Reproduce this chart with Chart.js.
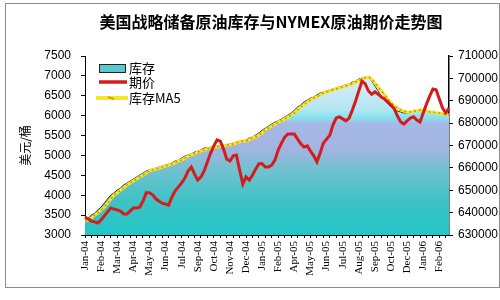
<!DOCTYPE html>
<html>
<head>
<meta charset="utf-8">
<script src="https://cdn.jsdelivr.net/npm/chart.js@4"></script>
<style>
  body { margin: 0; background: #fff; }
  #wrap { width: 500px; height: 300px; }
</style>
</head>
<body>
<div id="wrap"><canvas id="chart" width="500" height="300"></canvas></div>
<script>
// weekly data, Jan 2004 - early Mar 2006, a label every 5 weeks
const tickLabels = ['Jan-04','Feb-04','Mar-04','Apr-04','May-04','Jun-04','Jul-04','Sep-04','Oct-04','Nov-04','Dec-04',
  'Jan-05','Feb-05','Apr-05','May-05','Jun-05','Jul-05','Aug-05','Sep-05','Oct-05','Dec-05','Jan-06','Feb-06'];

// 库存 (right axis)
const stock = [636700,637600,638900,639800,641200,642500,644300,646100,647900,648800,
  650100,651000,652400,653200,654100,655000,655900,656800,657700,658600,
  659100,659500,659900,660400,660800,661300,661700,662200,663100,663500,
  664400,665300,665800,666200,667100,667500,668000,668900,668900,669300,
  669300,669800,669800,670200,670200,670700,671100,671600,672000,672000,
  672500,673400,673800,674700,675600,676900,677800,678700,679600,680500,
  681000,681900,682700,683600,684500,685900,687200,688100,689500,690300,
  691200,691700,692600,693500,693900,694400,694800,695300,695700,696200,
  696600,697100,697500,698400,698800,699700,700200,700600,700600,698800,
  696600,694400,692100,690300,688600,687200,686300,685400,685000,684500,
  684500,685000,685400,685400,685900,685900,685400,685000,685000,684500,
  684500,684100,684100,683600];

// 库存MA5 (right axis)
const stockMA5 = [636200,636700,637600,638900,639800,641200,642500,644300,646100,647900,
  648800,650100,651000,652400,653200,654100,655000,655900,656800,657700,
  658600,659100,659500,659900,660400,660800,661300,661700,662200,663100,
  663500,664400,665300,665800,666200,667100,667500,668000,668500,668900,
  669300,669300,669800,669800,670200,670200,670700,671100,671600,672000,
  672000,672500,673400,673800,674700,675600,676900,677800,678700,679600,
  680500,681000,681900,682700,683600,684500,685900,687200,688100,689500,
  690300,691200,691700,692600,693500,693900,694400,694800,695300,695700,
  696200,696600,697100,697500,698400,698800,699700,700200,700600,699700,
  697900,696200,694400,692600,690800,689100,687700,686800,685900,685400,
  684900,685000,685400,685400,685900,685900,685400,685000,685000,684500,
  684500,684100,684100,683600];

// 期价 (left axis)
const price = [3450,3400,3350,3330,3300,3380,3480,3580,3680,3650,
  3630,3600,3530,3530,3600,3680,3680,3700,3850,4060,
  4060,4010,3910,3850,3800,3780,3750,3960,4110,4210,
  4310,4430,4610,4710,4530,4380,4460,4610,4840,5060,
  5240,5390,5360,5160,4910,4860,4990,5010,4630,4280,
  4460,4380,4510,4660,4790,4790,4710,4710,4760,4890,
  5140,5310,5460,5540,5540,5540,5410,5290,5210,5240,
  5110,4990,4840,5060,5310,5410,5510,5770,5940,5970,
  5920,5870,5940,6140,6370,6620,6870,6800,6620,6540,
  6600,6540,6470,6420,6340,6270,6170,5990,5840,5790,
  5870,5940,5970,5890,5840,6070,6290,6490,6670,6650,
  6420,6190,6070,6190];

const leftTicks = [3000,3500,4000,4500,5000,5500,6000,6500,7000,7500];
const rightTicks = [630000,640000,650000,660000,670000,680000,690000,700000,710000];

const categories = price.map((v, i) => i % 5 === 0 ? (tickLabels[i / 5] || '') : '');

function areaFill(context) {
  const chart = context.chart;
  const a = chart.chartArea;
  if (!a) return '#40c4c8';
  const g = chart.ctx.createLinearGradient(0, a.top, 0, a.bottom);
  g.addColorStop(0.0, '#eef7fc');
  g.addColorStop(0.15, '#d4ecf8');
  g.addColorStop(0.30, '#b2e6f2');
  g.addColorStop(0.34, '#86e4ee');
  g.addColorStop(0.38, '#a6b8e6');
  g.addColorStop(0.52, '#a2b4e0');
  g.addColorStop(0.64, '#70c2d0');
  g.addColorStop(0.80, '#40c2c6');
  g.addColorStop(1.0, '#22c6c6');
  return g;
}

const decor = {
  id: 'decor',
  beforeDraw(chart) {
    const c = chart.ctx;
    c.save();
    c.fillStyle = '#ffffff';
    c.fillRect(0, 0, 500, 300);
    c.strokeStyle = '#8c8c8c';
    c.lineWidth = 1;
    c.strokeRect(5.5, 3.5, 494, 284);
    c.restore();
  },
  afterDraw(chart) {
    const c = chart.ctx;
    c.save();
    // title
    c.fillStyle = '#000';
    c.font = 'bold 16px "Noto Sans CJK SC", sans-serif';
    c.textAlign = 'center';
    c.textBaseline = 'middle';
    c.fillText('美国战略储备原油库存与NYMEX原油期价走势图', 271, 22);

    // legend
    c.font = '13px "Noto Sans CJK SC", sans-serif';
    c.textAlign = 'left';
    c.fillStyle = '#5cc8cc';
    c.fillRect(99, 64, 26, 8);
    c.strokeStyle = '#222';
    c.lineWidth = 1;
    c.strokeRect(99.5, 64.5, 26, 8);
    c.fillStyle = '#000';
    c.fillText('库存', 129, 68);

    c.strokeStyle = '#d41c1c';
    c.lineWidth = 3.5;
    c.beginPath(); c.moveTo(99, 82); c.lineTo(127, 82); c.stroke();
    c.fillText('期价', 129, 82);

    c.strokeStyle = '#f2e829';
    c.lineWidth = 4;
    c.beginPath(); c.moveTo(96, 98); c.lineTo(128, 98); c.stroke();
    c.strokeStyle = '#e08a00';
    c.lineWidth = 1.5;
    c.beginPath(); c.moveTo(108, 97); c.lineTo(114, 99); c.stroke();
    c.fillStyle = '#000';
    c.fillText('库存MA5', 129, 98);
    c.restore();
  }
};

new Chart(document.getElementById('chart'), {
  type: 'line',
  data: {
    labels: categories,
    datasets: [
      {
        label: '期价',
        data: price,
        yAxisID: 'y',
        borderColor: '#d41c1c',
        borderWidth: 3,
        pointRadius: 0,
        tension: 0,
        fill: false,
        order: 0
      },
      {
        label: '库存MA5 dots',
        data: stockMA5,
        yAxisID: 'y1',
        borderColor: '#e08a00',
        borderWidth: 1.5,
        borderDash: [2, 3],
        pointRadius: 0,
        tension: 0,
        fill: false,
        order: 1
      },
      {
        label: '库存MA5',
        data: stockMA5,
        yAxisID: 'y1',
        borderColor: '#f2e829',
        borderWidth: 3,
        pointRadius: 0,
        tension: 0,
        fill: false,
        order: 2
      },
      {
        label: '库存',
        data: stock,
        yAxisID: 'y1',
        borderColor: '#333',
        borderWidth: 1,
        backgroundColor: areaFill,
        pointRadius: 0,
        tension: 0,
        fill: 'start',
        order: 3
      }
    ]
  },
  options: {
    responsive: false,
    animation: false,
    layout: { padding: { top: 56, left: 0, right: 0, bottom: 0 } },
    plugins: {
      legend: { display: false },
      title: { display: false },
      tooltip: { enabled: false }
    },
    scales: {
      x: {
        type: 'category',
        offset: false,
        grid: {
          drawOnChartArea: false,
          tickLength: 3,
          tickColor: (ctx) => ctx.index % 2 === 0 ? '#000' : 'rgba(0,0,0,0)'
        },
        border: { color: '#000', width: 1 },
        ticks: {
          autoSkip: false,
          minRotation: 90,
          maxRotation: 90,
          padding: 3,
          color: '#000',
          font: { family: '"Liberation Serif", serif', size: 11 }
        },
        afterFit(s) { s.height = 65; }
      },
      y: {
        position: 'left',
        min: 3000,
        max: 7500,
        afterBuildTicks(s) { s.ticks = leftTicks.map(v => ({ value: v })); },
        grid: { drawOnChartArea: false, tickLength: 4, tickColor: '#000' },
        border: { color: '#000', width: 1 },
        ticks: {
          color: '#000',
          padding: 10,
          font: { family: '"Liberation Sans", sans-serif', size: 12 },
          callback: (v) => String(v)
        },
        title: {
          display: true,
          text: '美元/桶',
          color: '#000',
          padding: { top: 18, bottom: 0 },
          font: { family: '"Noto Sans CJK SC", sans-serif', size: 12 }
        },
        afterFit(s) { s.width = 85; }
      },
      y1: {
        position: 'right',
        min: 630000,
        max: 710000,
        afterBuildTicks(s) { s.ticks = rightTicks.map(v => ({ value: v })); },
        grid: { drawOnChartArea: false, tickLength: 4, tickColor: '#000' },
        border: { color: '#000', width: 1.5 },
        ticks: {
          color: '#000',
          padding: 5,
          font: { family: '"Liberation Sans", sans-serif', size: 12 },
          callback: (v) => String(v)
        },
        afterFit(s) { s.width = 51; }
      }
    }
  },
  plugins: [decor]
});
</script>
</body>
</html>
